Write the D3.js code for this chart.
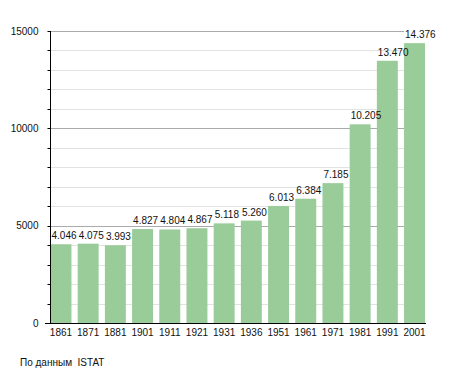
<!DOCTYPE html>
<html>
<head>
<meta charset="utf-8">
<script src="https://cdn.jsdelivr.net/npm/d3@7"></script>
<style>
  body { margin: 0; background: #fff; }
  svg { display: block; font-family: "Liberation Sans", Arial, sans-serif; }
</style>
</head>
<body>
<div id="chart"></div>
<script>
// census years and population
const years = ["1861", "1871", "1881", "1901", "1911", "1921", "1931", "1936", "1951", "1961", "1971", "1981", "1991", "2001"];
const population = [4046, 4075, 3993, 4827, 4804, 4867, 5118, 5260, 6013, 6384, 7185, 10205, 13470, 14376];
const yTicks = [0, 5000, 10000, 15000];
const minorTicks = d3.range(0, 15001, 1000);
const sourceNote = "По данным  ISTAT";

const width = 455, height = 373;
const barColor = "#99cc99";

const svg = d3.select("#chart").append("svg")
    .attr("width", width)
    .attr("height", height);

const x = d3.scaleBand()
    .domain(years)
    .range([50.5, 425])
    .paddingInner(0.23)
    .paddingOuter(0);

const y = d3.scaleLinear()
    .domain([0, 15000])
    .range([323, 31]);

// minor gridlines (every 1000)
svg.append("g").selectAll("line")
    .data(minorTicks.filter(d => d % 5000 !== 0))
    .enter().append("line")
    .attr("x1", 51).attr("x2", 404)
    .attr("y1", d => Math.round(y(d)) + 0.5)
    .attr("y2", d => Math.round(y(d)) + 0.5)
    .style("stroke", "#e2e2e2");

// major gridlines
svg.append("g").selectAll("line")
    .data(yTicks.filter(d => d > 0))
    .enter().append("line")
    .attr("x1", 51).attr("x2", 404)
    .attr("y1", d => Math.round(y(d)) + 0.5)
    .attr("y2", d => Math.round(y(d)) + 0.5)
    .style("stroke", "#aaaaaa");

// bars
svg.append("g").selectAll("rect")
    .data(population)
    .enter().append("rect")
    .attr("x", (d, i) => x(years[i]))
    .attr("y", d => y(d))
    .attr("width", x.bandwidth())
    .attr("height", d => y(0) - y(d))
    .style("fill", barColor);

// value labels, with "." as thousands separator, starting at the bar's left edge
const fmt = d => d3.format(",")(d).replace(/,/g, ".");
svg.append("g").selectAll("text")
    .data(population)
    .enter().append("text")
    .attr("x", (d, i) => x(years[i]) + 1)
    .attr("y", d => y(d) - 5)
    .style("font-size", "10px")
    .style("fill", "#111")
    .text(fmt);

// y axis with minor ticks
const yAxis = svg.append("g")
    .attr("transform", "translate(50.5,0)");
yAxis.append("line")
    .attr("x1", 0).attr("x2", 0)
    .attr("y1", y(15000)).attr("y2", y(0))
    .style("stroke", "#000");
yAxis.selectAll(".tick")
    .data(minorTicks)
    .enter().append("line")
    .attr("x1", -3).attr("x2", 0)
    .attr("y1", d => Math.round(y(d)) + 0.5)
    .attr("y2", d => Math.round(y(d)) + 0.5)
    .style("stroke", "#000");
yAxis.selectAll("text")
    .data(yTicks)
    .enter().append("text")
    .attr("x", -12)
    .attr("y", d => y(d) + 3.5)
    .attr("text-anchor", "end")
    .style("font-size", "10px")
    .style("fill", "#111")
    .text(d => d);

// x axis
const xAxis = d3.axisBottom(x).tickSize(0).tickPadding(5);
const xg = svg.append("g")
    .attr("transform", `translate(0,${y(0) + 0.5})`)
    .call(xAxis);
xg.select(".domain")
    .attr("d", "M45,0H426")
    .style("stroke", "#000");
xg.selectAll("text")
    .style("font-size", "10px")
    .style("font-family", "Liberation Sans, Arial, sans-serif")
    .style("fill", "#111");

// source note
svg.append("text")
    .attr("x", 20)
    .attr("y", 365.5)
    .style("font-size", "10px")
    .style("fill", "#111")
    .style("white-space", "pre")
    .text(sourceNote);
</script>
</body>
</html>
